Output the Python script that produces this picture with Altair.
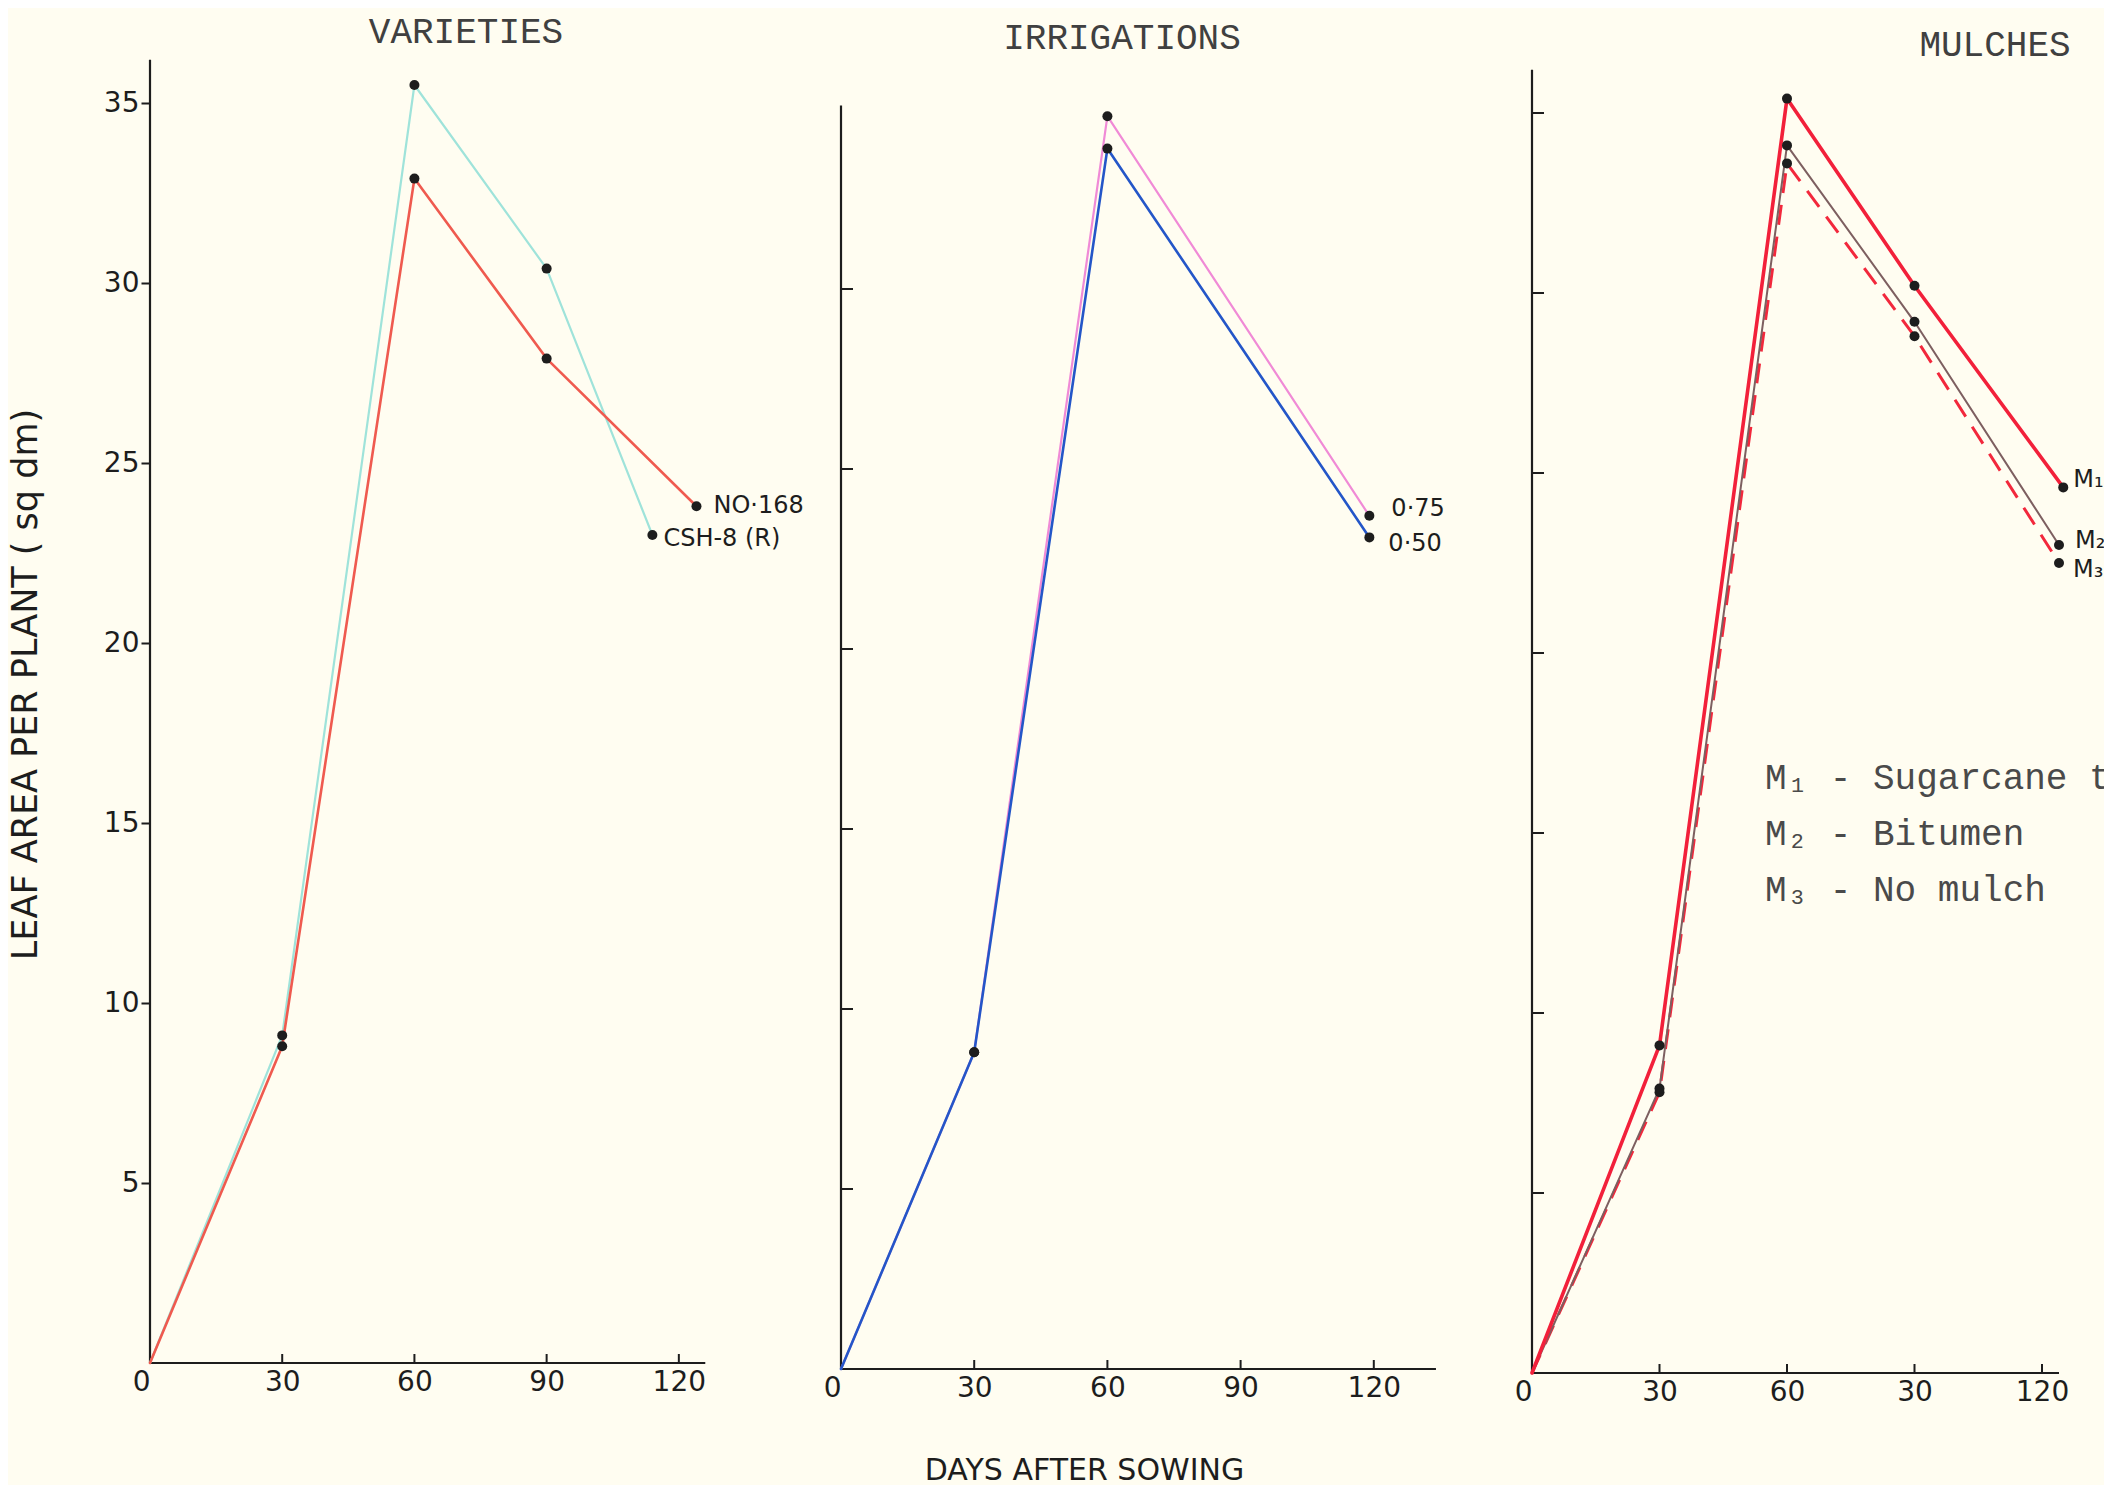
import altair as alt
import pandas as pd

# ---------------- data ----------------
DAY_TICKS = [0, 30, 60, 90, 120]
X_TICKS_INNER = [30, 60, 90, 120]
Y_TICKS_P1 = [5, 10, 15, 20, 25, 30, 35]
Y_TICKS_P2 = [5, 10, 15, 20, 25, 30]
Y_TICKS_P3 = [5, 10, 15, 20, 25, 30, 35]

# Varieties
csh8_days = [0, 30, 60, 90, 114]
csh8_vals = [0.0, 9.1, 35.5, 30.4, 23.0]
no168_days = [0, 30, 60, 90, 124]
no168_vals = [0.0, 8.8, 32.9, 27.9, 23.8]

# Irrigations
irr_days = [0, 30, 60, 119]
irr075_vals = [0.0, 8.8, 34.8, 23.7]
irr050_vals = [0.0, 8.8, 33.9, 23.1]

# Mulches
m1_days = [0, 30, 60, 90, 125]
m1_vals = [0.0, 9.1, 35.4, 30.2, 24.6]
m23_days = [0, 30, 60, 90, 124]
m2_vals = [0.0, 7.9, 34.1, 29.2, 23.0]
m3_vals = [0.0, 7.8, 33.6, 28.8, 22.5]

# hand-drawn axis extents (days, leaf area)
p1_axis_ext = [126, 36.2]
p2_axis_ext = [134, 35.1]
p3_axis_ext = [124, 36.2]

titles = ["VARIETIES", "IRRIGATIONS", "MULCHES"]
legend_lines = ["M\u2081 - Sugarcane trash", "M\u2082 - Bitumen", "M\u2083 - No mulch"]
Y_TITLE = "LEAF AREA PER PLANT ( sq dm)"
X_TITLE = "DAYS AFTER SOWING"

# ---------------- style ----------------
BG = "#fffdf1"
INK = "#1d1d1d"
TYPE_INK = "#404040"
HAND = "DejaVu Sans"
MONO = "Liberation Mono"
PX_PER_UNIT = 36.0


def sdf(name, days, vals):
    return pd.DataFrame({"day": days, "value": vals, "series": name})


def x_axis(label_expr=None, title=None, title_x=None, title_y=None):
    kw = dict(values=DAY_TICKS, domain=False, ticks=False, grid=False,
              labelFont=HAND, labelFontSize=28, labelColor=INK, labelPadding=5,
              labelAlign={"expr": "datum.value == 0 ? 'right' : 'center'"},
              labelFlush=False, labelOverlap=False, format="d")
    if label_expr:
        kw["labelExpr"] = label_expr
    if title:
        kw.update(title=title, titleFont=HAND, titleFontSize=30,
                  titleFontWeight="normal", titleColor=INK, titleX=title_x,
                  titleY=title_y, titleAlign="center", titleBaseline="middle")
    else:
        kw["title"] = None
    return alt.Axis(**kw)


def panel(series, W, H, xmax, axis_ext, yticks_inner, xaxis, yaxis,
          labels, title, title_xy, clip=False, legend=None):
    xs = alt.Scale(domain=[0, xmax], nice=False, zero=False)
    ys = alt.Scale(domain=[0, H / PX_PER_UNIT], nice=False, zero=False)

    # every layer carries the same axis spec so the layer merge keeps it
    def X():
        return alt.X("day:Q", scale=xs, axis=xaxis)

    def Y():
        return alt.Y("value:Q", scale=ys, axis=yaxis)

    layers = []
    axis_df = pd.DataFrame({"day": [0, 0], "day2": [axis_ext[0], 0],
                            "value": [0, 0], "value2": [0, axis_ext[1]]})
    layers.append(alt.Chart(axis_df).mark_rule(color=INK, strokeWidth=2.2).encode(
        x=X(), x2="day2:Q", y=Y(), y2="value2:Q"))

    layers.append(alt.Chart(pd.DataFrame({"day": X_TICKS_INNER})).mark_rule(
        color=INK, strokeWidth=2).encode(x=X(), y=alt.value(H), y2=alt.value(H - 9)))

    if yticks_inner:
        layers.append(alt.Chart(pd.DataFrame({"value": yticks_inner})).mark_rule(
            color=INK, strokeWidth=2).encode(y=Y(), x=alt.value(0), x2=alt.value(12)))

    for df, color, width, dash in series:
        mk = dict(color=color, strokeWidth=width, strokeCap="round", strokeJoin="round")
        if dash:
            mk["strokeDash"] = dash
            mk["strokeCap"] = "butt"
        layers.append(alt.Chart(df).mark_line(**mk).encode(x=X(), y=Y()))

    pts = pd.concat([s[0] for s in series])
    layers.append(alt.Chart(pts).transform_filter("datum.day > 0").mark_circle(
        size=100, color=INK, opacity=1).encode(x=X(), y=Y()))

    for text, day, val, dx, dy in labels:
        layers.append(alt.Chart(pd.DataFrame({"day": [day], "value": [val], "t": [text]})).mark_text(
            align="left", baseline="middle", dx=dx, dy=dy, font=HAND, fontSize=24,
            color=INK, clip=clip).encode(x=X(), y=Y(), text="t:N"))

    layers.append(alt.Chart(pd.DataFrame({"t": [title]})).mark_text(
        font=MONO, fontSize=36, color=TYPE_INK, align="center", baseline="middle",
        clip=clip).encode(x=alt.value(title_xy[0]), y=alt.value(title_xy[1]), text="t:N"))

    if legend:
        for i, line in enumerate(legend["lines"]):
            layers.append(alt.Chart(pd.DataFrame({"t": [line]})).mark_text(
                font=MONO, fontSize=36, color="#4a4a4a", align="left", baseline="middle",
                clip=clip).encode(x=alt.value(legend["x"]), y=alt.value(legend["y"][i]),
                                  text="t:N"))

    return alt.layer(*layers).properties(width=W, height=H)


# ---------------- panel 1: varieties ----------------
H1, H2, H3 = 1355, 1361, 1365
W1, W2, W3 = 691, 691, 572

yaxis1 = alt.Axis(values=Y_TICKS_P1, domain=False, ticks=True, tickSize=9, tickWidth=2,
                  tickColor=INK, grid=False, labelFont=HAND, labelFontSize=28,
                  labelColor=INK, labelPadding=2, labelFlush=False, format="d",
                  title=Y_TITLE, titleFont=HAND, titleFontSize=35, titleFontWeight="normal",
                  titleColor=INK, titleX=-142, titleY=676, titleAngle=270,
                  titleBaseline="top", titleAlign="center")

p1 = panel(
    series=[(sdf("CSH-8 (R)", csh8_days, csh8_vals), "#9fe3da", 2.2, None),
            (sdf("No.168", no168_days, no168_vals), "#ef5a4f", 2.6, None)],
    W=W1, H=H1, xmax=W1 / 4.407, axis_ext=p1_axis_ext, yticks_inner=None,
    xaxis=x_axis(), yaxis=yaxis1,
    labels=[("NO\u00b7168", no168_days[-1], no168_vals[-1], 17, 0),
            ("CSH-8 (R)", csh8_days[-1], csh8_vals[-1], 11, 4)],
    title=titles[0], title_xy=(316, 24))

# ---------------- panel 2: irrigations ----------------
p2 = panel(
    series=[(sdf("0.75", irr_days, irr075_vals), "#f08ad6", 2.2, None),
            (sdf("0.50", irr_days, irr050_vals), "#2456c8", 2.6, None)],
    W=W2, H=H2, xmax=W2 / 4.44, axis_ext=p2_axis_ext, yticks_inner=Y_TICKS_P2,
    xaxis=x_axis(title=X_TITLE, title_x=243, title_y=101), yaxis=None,
    labels=[("0\u00b775", irr_days[-1], irr075_vals[-1], 22, -7),
            ("0\u00b750", irr_days[-1], irr050_vals[-1], 19, 7)],
    title=titles[1], title_xy=(281, 30))

# ---------------- panel 3: mulches ----------------
p3 = panel(
    series=[(sdf("M3", m23_days, m3_vals), "#f2283c", 3.0, [20, 12]),
            (sdf("M2", m23_days, m2_vals), "#7d5f60", 2.0, None),
            (sdf("M1", m1_days, m1_vals), "#f2203a", 3.6, None)],
    W=W3, H=H3, xmax=W3 / 4.25, axis_ext=p3_axis_ext, yticks_inner=Y_TICKS_P3,
    xaxis=x_axis(label_expr="datum.value == 90 ? '30' : datum.label"), yaxis=None,
    labels=[("M\u2081", m1_days[-1], m1_vals[-1], 10, -7),
            ("M\u2082", m23_days[-1], m2_vals[-1], 16, -4),
            ("M\u2083", m23_days[-1], m3_vals[-1], 14, 7)],
    title=titles[2], title_xy=(463, 37), clip=True,
    legend={"lines": legend_lines, "x": 233, "y": [770, 826, 882]})

chart = alt.hconcat(p1, p2, p3, spacing=0, bounds="flush").properties(
    padding=0, background=BG
).configure_view(stroke=None).configure_axis(grid=False)

chart.save("out.html", embed_options={"renderer": "svg", "actions": False})
